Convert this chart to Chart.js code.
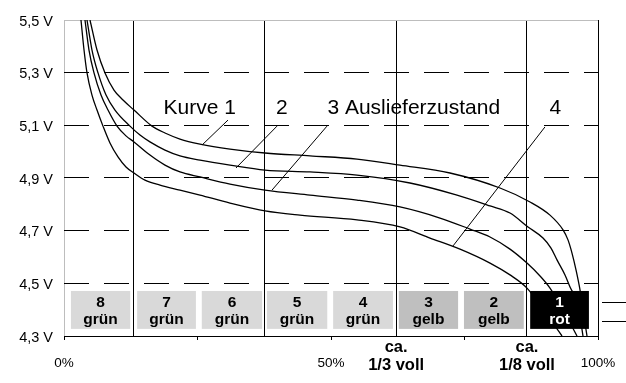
<!DOCTYPE html>
<html>
<head>
<meta charset="utf-8">
<script src="https://cdn.jsdelivr.net/npm/chart.js@4.4.1/dist/chart.umd.min.js"></script>
<style>
  html, body { margin: 0; padding: 0; background: #fff; }
  #wrap { width: 626px; height: 383px; }
</style>
</head>
<body>
<div id="wrap"><canvas id="c" width="626" height="383"></canvas></div>
<script>
// Kurven: [Ladezustand %, Spannung V]
var kurve1 = [[4.87,5.5],[6.18,5.386],[7.68,5.299],[9.36,5.234],[11.05,5.196],[13.11,5.158],[16.48,5.097],[18.91,5.071],[21.72,5.048],[25.47,5.029],[31.09,5.010],[37.64,4.995],[46.07,4.984],[54.87,4.972],[62.92,4.949],[72.28,4.919],[81.65,4.862],[87.27,4.809],[91.01,4.759],[93.45,4.703],[94.38,4.665],[95.13,4.615],[95.88,4.551],[96.63,4.475],[97.19,4.399],[97.94,4.3]];
var kurve2 = [[4.31,5.5],[5.24,5.386],[6.37,5.299],[7.87,5.215],[9.55,5.158],[12.36,5.097],[14.23,5.063],[16.10,5.037],[18.91,5.006],[21.72,4.984],[25.47,4.968],[31.09,4.949],[37.64,4.930],[46.07,4.923],[54.87,4.911],[64.79,4.881],[73.60,4.835],[79.78,4.794],[83.52,4.767],[86.89,4.714],[89.70,4.672],[91.20,4.634],[92.32,4.589],[93.82,4.532],[94.76,4.486],[96.25,4.418],[97.19,4.3]];
var kurve3 = [[3.93,5.5],[4.68,5.386],[5.62,5.299],[6.93,5.215],[8.24,5.158],[9.93,5.097],[11.61,5.060],[13.11,5.037],[16.10,4.987],[18.91,4.949],[21.72,4.923],[25.47,4.904],[31.09,4.877],[37.64,4.854],[46.07,4.835],[54.87,4.816],[62.92,4.790],[70.41,4.748],[76.03,4.706],[79.78,4.676],[83.52,4.630],[86.70,4.577],[89.14,4.528],[91.01,4.482],[93.45,4.399],[96.07,4.3]];
var kurve4 = [[3.18,5.5],[3.75,5.386],[4.31,5.299],[5.24,5.215],[6.18,5.158],[7.30,5.097],[8.61,5.033],[10.11,4.980],[11.61,4.942],[13.11,4.919],[15.17,4.892],[17.98,4.873],[21.72,4.854],[25.47,4.835],[31.09,4.805],[37.64,4.775],[44.19,4.759],[54.87,4.741],[62.92,4.714],[68.54,4.672],[74.16,4.630],[79.78,4.577],[83.52,4.532],[86.70,4.482],[90.07,4.391],[93.26,4.3]];

// Hinweislinien zu den Kurvenbeschriftungen
var leader1 = [[30.71,5.120],[25.84,5.025]];
var leader2 = [[39.89,5.097],[32.21,4.938]];
var leader3 = [[49.25,5.097],[38.95,4.854]];
var leader4 = [[90.07,5.094],[72.85,4.642]];

var curveLabels = ['Kurve 1', '2', '3 Auslieferzustand', '4'];
var curveLabelX = [25.4, 40.8, 65.5, 92.0];
var curveLabelV = 5.166;

// Achsen
var yTickVals = [4.3, 4.5, 4.7, 4.9, 5.1, 5.3, 5.5];
var xTickPos = [0, 25, 50, 75, 100];
var xTickText = ['0%', '', '50%', '', '100%'];
var vLinePos = [13.1, 37.6, 62.2, 86.7];
var vLineText = [null, null, ['ca.', '1/3 voll'], ['ca.', '1/8 voll']];

// LED-Anzeige
var boxNum = ['8', '7', '6', '5', '4', '3', '2', '1'];
var boxName = ['grün', 'grün', 'grün', 'grün', 'grün', 'gelb', 'gelb', 'rot'];
var boxStart = [1.3, 13.7, 25.8, 38.0, 50.4, 62.7, 74.9, 87.3];
var boxEnd = [12.4, 24.7, 37.1, 49.3, 61.6, 73.8, 86.1, 98.3];
var boxTop = 4.471;
var boxBottom = 4.327;
var rightMarks = [4.430, 4.358];

var FONT = "'Liberation Sans', Arial, Helvetica, sans-serif";
Chart.defaults.font.family = FONT;
Chart.defaults.color = '#000';

function pts(arr) { return arr.map(function(p) { return { x: p[0], y: p[1] }; }); }
function near(a, b) { return Math.abs(a - b) < 1e-6; }
function vIndex(v) { for (var i = 0; i < vLinePos.length; i++) if (near(v, vLinePos[i])) return i; return -1; }
function tIndex(v) { for (var i = 0; i < xTickPos.length; i++) if (near(v, xTickPos[i])) return i; return -1; }

function curve(d) {
  return { data: pts(d), borderColor: '#000', borderWidth: 1.3, pointRadius: 0, fill: false, cubicInterpolationMode: 'monotone' };
}
function leader(d) {
  return { data: pts(d), borderColor: '#000', borderWidth: 1, pointRadius: 0, fill: false, tension: 0 };
}

var overlay = {
  id: 'overlay',
  afterDatasetsDraw: function(chart) {
    var ctx = chart.ctx, x = chart.scales.x, y = chart.scales.y, area = chart.chartArea;
    ctx.save();
    var y0 = y.getPixelForValue(boxTop), y1 = y.getPixelForValue(boxBottom);
    var cy = (y0 + y1) / 2;
    for (var i = 0; i < boxNum.length; i++) {
      var x0 = x.getPixelForValue(boxStart[i]), x1 = x.getPixelForValue(boxEnd[i]);
      var fill = boxName[i] === 'grün' ? '#d9d9d9' : (boxName[i] === 'gelb' ? '#bfbfbf' : '#000');
      ctx.fillStyle = fill;
      ctx.fillRect(x0, y0, x1 - x0, y1 - y0);
      ctx.fillStyle = boxName[i] === 'rot' ? '#fff' : '#000';
      ctx.font = 'bold 15.5px ' + FONT;
      ctx.textAlign = 'center';
      ctx.textBaseline = 'alphabetic';
      var cx = (x0 + x1) / 2;
      ctx.fillText(boxNum[i], cx, cy - 3);
      ctx.fillText(boxName[i], cx, cy + 14);
    }
    // Kurvenbeschriftung
    ctx.fillStyle = '#000';
    ctx.font = '21px ' + FONT;
    ctx.textBaseline = 'middle';
    var ly = y.getPixelForValue(curveLabelV);
    for (var j = 0; j < curveLabels.length; j++) {
      ctx.fillText(curveLabels[j], x.getPixelForValue(curveLabelX[j]), ly);
    }
    // kurze Striche rechts ausserhalb
    ctx.strokeStyle = '#000';
    ctx.lineWidth = 1;
    for (var k = 0; k < rightMarks.length; k++) {
      var py = Math.round(y.getPixelForValue(rightMarks[k])) + 0.5;
      ctx.beginPath();
      ctx.moveTo(area.right + 4, py);
      ctx.lineTo(chart.width, py);
      ctx.stroke();
    }
    ctx.restore();
  }
};

new Chart(document.getElementById('c'), {
  type: 'line',
  data: {
    datasets: [curve(kurve1), curve(kurve2), curve(kurve3), curve(kurve4),
      leader(leader1), leader(leader2), leader(leader3), leader(leader4)]
  },
  options: {
    responsive: false,
    devicePixelRatio: 1,
    animation: false,
    layout: { padding: { top: 20, right: 28, left: 0, bottom: 0 } },
    plugins: { legend: { display: false }, tooltip: { enabled: false } },
    scales: {
      x: {
        type: 'linear', min: 0, max: 100,
        afterBuildTicks: function(s) {
          s.ticks = xTickPos.concat(vLinePos).sort(function(a, b) { return a - b; }).map(function(v) { return { value: v }; });
        },
        afterFit: function(s) { s.height = 47; },
        border: { display: true, color: '#000', width: 1 },
        grid: {
          drawOnChartArea: true, drawTicks: true, tickLength: 4, lineWidth: 1,
          color: function(c) {
            var v = c.tick ? c.tick.value : -1;
            if (near(v, 0)) return '#bdbdbd';
            if (near(v, 100) || vIndex(v) >= 0) return '#000';
            return 'rgba(0,0,0,0)';
          },
          tickColor: function(c) {
            var v = c.tick ? c.tick.value : -1;
            return vIndex(v) >= 0 ? 'rgba(0,0,0,0)' : '#000';
          }
        },
        ticks: {
          autoSkip: false, maxRotation: 0, minRotation: 0, padding: -2, color: '#000',
          callback: function(v) {
            var i = vIndex(v);
            if (i >= 0) return vLineText[i] || '';
            var t = tIndex(v);
            return t >= 0 && xTickText[t] ? ['', xTickText[t]] : '';
          },
          font: function(c) {
            var v = c.tick ? c.tick.value : 0;
            if (vIndex(v) >= 0) return { family: FONT, size: 16.5, weight: 'bold', lineHeight: 1.12 };
            return { family: FONT, size: 13.5, lineHeight: 1.24 };
          }
        }
      },
      y: {
        type: 'linear', min: 4.3, max: 5.5,
        afterBuildTicks: function(s) { s.ticks = yTickVals.map(function(v) { return { value: v }; }); },
        afterFit: function(s) { s.width = 64; },
        border: {
          display: false,
          dash: function(c) {
            var v = c.tick ? c.tick.value : 0;
            return (near(v, 5.5) || near(v, 4.3)) ? [] : [25, 15];
          }
        },
        grid: {
          drawTicks: true, tickLength: 4, lineWidth: 1, tickColor: 'rgba(0,0,0,0)',
          color: function(c) {
            var v = c.tick ? c.tick.value : 0;
            return near(v, 5.5) ? '#bdbdbd' : '#000';
          }
        },
        ticks: {
          padding: 7, color: '#000', labelOffset: 1.5,
          font: { family: FONT, size: 14.5 },
          callback: function(v) { return v.toFixed(1).replace('.', ',') + ' V'; }
        }
      }
    }
  },
  plugins: [overlay]
});
</script>
</body>
</html>
